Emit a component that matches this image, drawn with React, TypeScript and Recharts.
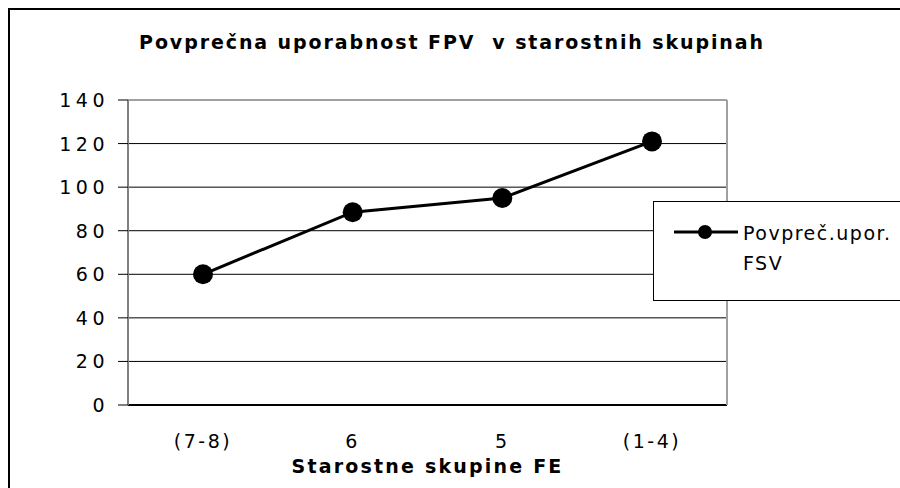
import React from 'react';
import { LineChart, Line, XAxis, YAxis, CartesianGrid } from 'recharts';

const categories = ['(7-8)', '6', '5', '(1-4)'];
const averageUse = [60, 88.5, 95, 121];
const yTicks = [0, 20, 40, 60, 80, 100, 120, 140];
const boundaryTicks = [0, 1, 2, 3, 4];

const data = categories.map((group, i) => ({ group, value: averageUse[i] }));

const FONT = '"DejaVu Sans", Verdana, sans-serif';

function YTick(props: any) {
  const { x, y, payload } = props;
  return (
    <text x={x - 7} y={y} textAnchor="end" dominantBaseline="central" fontFamily={FONT} fontSize={19} letterSpacing={4.5} fill="#000">
      {payload.value}
    </text>
  );
}

function XTick(props: any) {
  const { x, y, payload } = props;
  return (
    <text x={x} y={y + 35} textAnchor="middle" dominantBaseline="central" fontFamily={FONT} fontSize={19} letterSpacing={2.5} fill="#000">
      {payload.value}
    </text>
  );
}

function AxisTitle(props: any) {
  const { viewBox } = props;
  return (
    <text
      x={viewBox.x + viewBox.width / 2}
      y={viewBox.y + 60}
      textAnchor="middle"
      dominantBaseline="central"
      fontFamily={FONT}
      fontSize={19}
      fontWeight="bold"
      letterSpacing={2.2}
      fill="#000"
    >
      Starostne skupine FE
    </text>
  );
}

export default function App() {
  return (
    <div
      style={{
        position: 'fixed',
        left: 8,
        top: 8,
        width: 892,
        height: 480,
        maxWidth: 'none',
        boxSizing: 'border-box',
        borderTop: '2px solid #000',
        borderLeft: '2px solid #000',
        overflow: 'hidden',
        background: '#fff',
      }}
    >
      <style>{'html,body{overflow:hidden}'}</style>

      <LineChart width={890} height={478} data={data} margin={{ top: 89, right: 172, left: 58, bottom: 12 }}>
        <CartesianGrid xAxisId="lbl" vertical={false} stroke="#000" strokeWidth={1} />
        <XAxis
          xAxisId="top"
          orientation="top"
          dataKey="group"
          height={1}
          tick={false}
          tickLine={false}
          axisLine={{ stroke: '#a0a0a0', strokeWidth: 2 }}
        />
        <XAxis
          xAxisId="b"
          type="number"
          domain={[0, 4]}
          ticks={boundaryTicks}
          allowDataOverflow
          height={1}
          tick={false}
          tickSize={8}
          tickLine={{ stroke: '#000' }}
          axisLine={{ stroke: '#000', strokeWidth: 2 }}
        />
        <XAxis
          xAxisId="lbl"
          dataKey="group"
          height={70}
          padding={{ left: 75, right: 75 }}
          tickLine={false}
          axisLine={false}
          tickSize={0}
          tickMargin={0}
          tick={<XTick />}
          interval={0}
          label={<AxisTitle />}
        />
        <YAxis
          width={60}
          domain={[0, 140]}
          ticks={yTicks}
          interval={0}
          tickSize={10}
          tickLine={{ stroke: '#000' }}
          axisLine={{ stroke: '#808080', strokeWidth: 2 }}
          tick={<YTick />}
        />
        <YAxis
          yAxisId="r"
          orientation="right"
          width={1}
          domain={[0, 140]}
          tick={false}
          tickLine={false}
          axisLine={{ stroke: '#a0a0a0', strokeWidth: 2 }}
        />
        <Line
          xAxisId="lbl"
          dataKey="value"
          stroke="#000"
          strokeWidth={3}
          dot={{ r: 10, fill: '#000', stroke: '#000', strokeWidth: 0 }}
          activeDot={false}
          isAnimationActive={false}
        />
      </LineChart>

      <div
        style={{
          position: 'absolute',
          left: 0,
          top: 22,
          width: 884,
          textAlign: 'center',
          fontFamily: FONT,
          fontSize: 19,
          lineHeight: '20px',
          fontWeight: 'bold',
          letterSpacing: 1.9,
          whiteSpace: 'pre',
        }}
      >
        {'Povprečna uporabnost FPV  v starostnih skupinah'}
      </div>

      <div
        style={{
          position: 'absolute',
          left: 643,
          top: 191,
          width: 300,
          height: 100,
          boxSizing: 'border-box',
          border: '1px solid #000',
          background: '#fff',
          fontFamily: FONT,
          fontSize: 19,
          letterSpacing: 1.5,
        }}
      >
        <svg width={64} height={20} style={{ position: 'absolute', left: 20, top: 20 }}>
          <line x1={0} y1={10} x2={64} y2={10} stroke="#000" strokeWidth={3} />
          <circle cx={31} cy={10} r={7} fill="#000" />
        </svg>
        <div style={{ position: 'absolute', left: 89, top: 19, lineHeight: '24px' }}>Povpreč.upor.</div>
        <div style={{ position: 'absolute', left: 89, top: 49, lineHeight: '24px' }}>FSV</div>
      </div>
    </div>
  );
}
